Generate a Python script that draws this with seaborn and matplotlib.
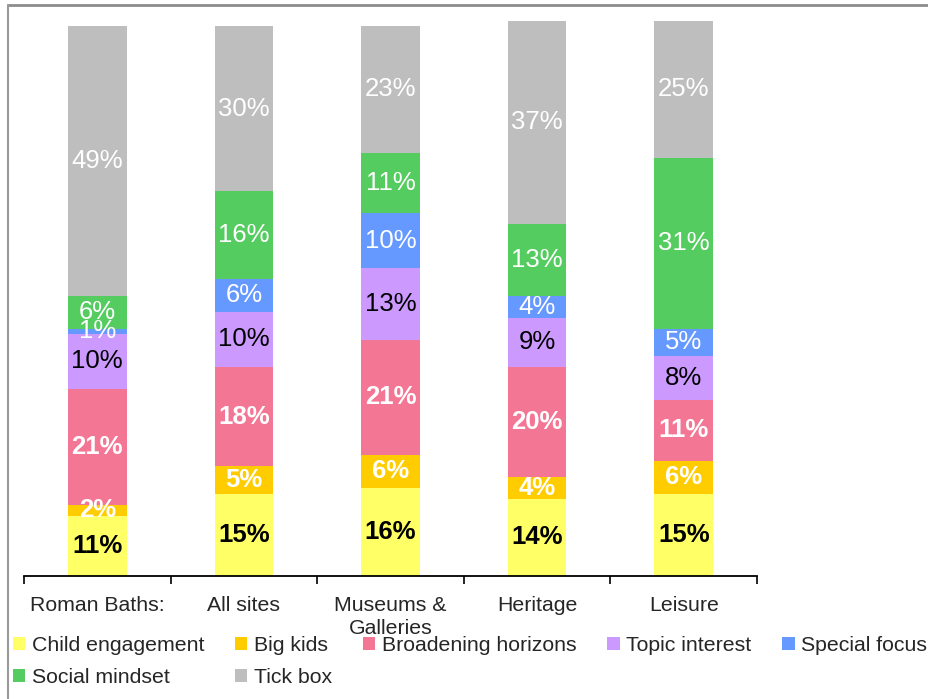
import matplotlib
matplotlib.use("Agg")
import matplotlib.pyplot as plt
from matplotlib.patches import Patch
from matplotlib.lines import Line2D
import numpy as np
import pandas as pd
import seaborn as sns

# Segment shares (%) per site type, stacked bottom to top
categories = ["Roman Baths:", "All sites", "Museums &\nGalleries", "Heritage", "Leisure"]
series_names = ["Child engagement", "Big kids", "Broadening horizons", "Topic interest",
                "Special focus", "Social mindset", "Tick box"]
child_engagement = [11, 15, 16, 14, 15]
big_kids = [2, 5, 6, 4, 6]
broadening_horizons = [21, 18, 21, 20, 11]
topic_interest = [10, 10, 13, 9, 8]
special_focus = [1, 6, 10, 4, 5]
social_mindset = [6, 16, 11, 13, 31]
tick_box = [49, 30, 23, 37, 25]

series_values = [child_engagement, big_kids, broadening_horizons, topic_interest,
                 special_focus, social_mindset, tick_box]
colors = ["#FFFF66", "#FFCC00", "#F37694", "#CC99FF", "#6699FF", "#55CC60", "#BEBEBE"]
label_colors = ["black", "white", "white", "black", "white", "white", "white"]
label_weights = ["bold", "bold", "bold", "normal", "normal", "normal", "normal"]

sns.set_theme(style="white")
plt.rcParams["font.family"] = ["Liberation Sans", "DejaVu Sans"]

W, H = 929, 699
fig = plt.figure(figsize=(W / 100, H / 100), dpi=100)
px_per_pct = 5.5
y_zero = 576
y_max = 101
ax = fig.add_axes([24 / W, (H - y_zero) / H, 733 / W, (px_per_pct * y_max) / H])

vals = np.array(series_values, dtype=float)
cum = np.cumsum(vals, axis=0)

# Draw cumulative totals from the top layer down so each lower segment overlays the one above
for i in range(len(series_names) - 1, -1, -1):
    df = pd.DataFrame({"site": categories, "value": cum[i]})
    sns.barplot(data=df, x="site", y="value", color=colors[i], saturation=1,
                width=0.4, linewidth=0, edgecolor="none", ax=ax, zorder=2)

# Value labels centred in each segment
for i in range(len(series_names)):
    for j in range(len(categories)):
        mid = cum[i, j] - vals[i, j] / 2
        ax.text(j, mid, f"{int(vals[i, j])}%", ha="center", va="center",
                fontsize=18.5, color=label_colors[i], fontweight=label_weights[i], zorder=5)

ax.set_ylim(0, y_max)
ax.set_xlim(-0.5, len(categories) - 0.5)
ax.set_xlabel("")
ax.set_ylabel("")
ax.set_yticks([])
for side in ["top", "right", "left"]:
    ax.spines[side].set_visible(False)
ax.spines["bottom"].set_color("black")
ax.spines["bottom"].set_linewidth(1.3)

# Tick marks between categories, labels at the category centres
ax.set_xticks(np.arange(-0.5, len(categories), 1.0))
ax.set_xticklabels([])
ax.set_xticks(np.arange(len(categories)), minor=True)
ax.set_xticklabels(categories, minor=True, fontsize=15.3, linespacing=1.28)
ax.tick_params(axis="x", which="major", direction="out", length=6, width=1.2,
               color="black", bottom=True)
ax.tick_params(axis="x", which="minor", length=0, pad=14.5)

# Legend laid out in rows of five
order = [0, 5, 1, 6, 2, 3, 4]
handles = [Patch(facecolor=colors[k], edgecolor="none", label=series_names[k]) for k in order]
fig.legend(handles=handles, loc="upper left", bbox_to_anchor=(13 / W, 1 - 636 / H),
           ncol=5, frameon=False, fontsize=15.3, borderpad=0, borderaxespad=0,
           handlelength=0.57, handleheight=0.57, handletextpad=0.32,
           columnspacing=1.45, labelspacing=0.62)

# Outer frame lines
fig.add_artist(Line2D([8 / W, 1], [1 - 4.5 / H, 1 - 4.5 / H], transform=fig.transFigure,
                      color="#8C8C8C", lw=2))
fig.add_artist(Line2D([8 / W, 8 / W], [0, 1 - 4.5 / H], transform=fig.transFigure,
                      color="#9A9A9A", lw=1.5))

fig.savefig("out.png", dpi=100)
